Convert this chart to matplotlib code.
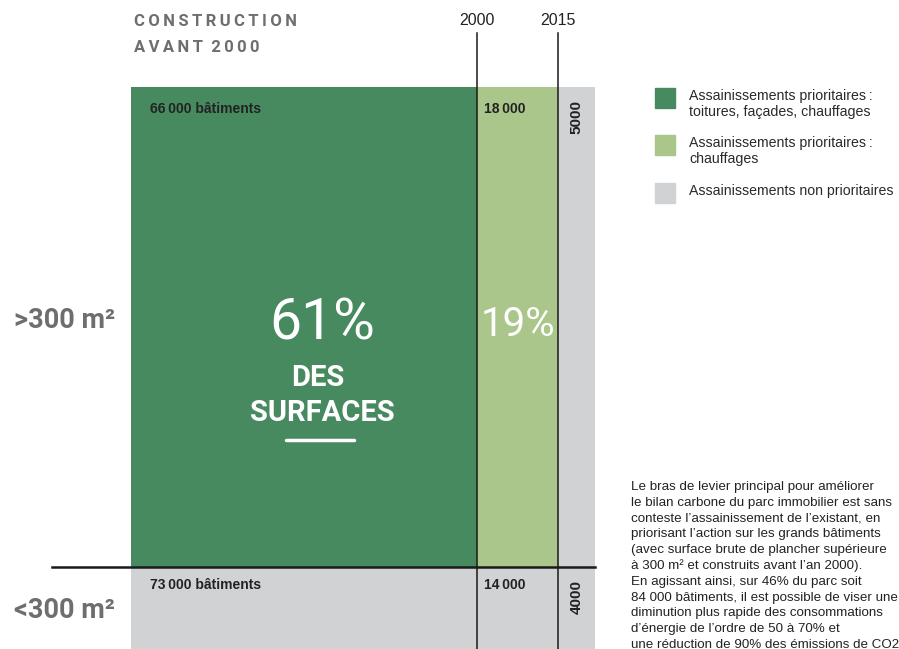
import numpy as np
import matplotlib.pyplot as plt

W, H = 899, 649

# --- données ---
bornes = ['2000', '2015']
part_colonnes = [74.6, 17.5, 7.9]          # avant 2000 / 2000-2015 / après 2015
lignes = ['>300 m²', '<300 m²']
part_lignes = [80, 20]
batiments = [[66000, 18000, 5000], [73000, 14000, 4000]]
part_surfaces = [[61, 19, None], [None, None, None]]
vert_fonce, vert_clair, gris = '#488a60', '#abc68a', '#d1d2d4'
couleurs = [[vert_fonce, vert_clair, gris], [gris, gris, gris]]
legende_couleurs = [vert_fonce, vert_clair, gris]
legende_textes = ['Assainissements prioritaires\u2009:\ntoitures, façades, chauffages',
                  'Assainissements prioritaires\u2009:\nchauffages',
                  'Assainissements non prioritaires']
paragraphe = [
    "Le bras de levier principal pour améliorer",
    "le bilan carbone du parc immobilier est sans",
    "conteste l’assainissement de l’existant, en",
    "priorisant l’action sur les grands bâtiments",
    "(avec surface brute de plancher supérieure",
    "à 300 m² et construits avant l’an 2000).",
    "En agissant ainsi, sur 46% du parc soit",
    "84 000 bâtiments, il est possible de viser une",
    "diminution plus rapide des consommations",
    "d’énergie de l’ordre de 50 à 70% et",
    "une réduction de 90% des émissions de CO2.",
]

MAIN = ['Roboto', 'DejaVu Sans']      # remplace la police manuscrite
TEXTE = ['Liberation Sans', 'DejaVu Sans']


def fx(x):
    return x / W


def fy(y):
    return 1 - y / H


def fmt(n):
    # espace fine seulement à partir de 10 000
    return f"{n:,}".replace(',', '\u2009') if n >= 10000 else str(n)


fig = plt.figure(figsize=(W / 100, H / 100), dpi=100)
ax = fig.add_axes([fx(131), (H - 687) / H, 464 / W, 600 / H])
ax.set_xlim(0, 100)
ax.set_ylim(0, 100)
ax.axis('off')

x_gauche = np.concatenate([[0], np.cumsum(part_colonnes)[:-1]])
y_haut = 100 - np.concatenate([[0], np.cumsum(part_lignes)[:-1]])

for r in range(len(part_lignes)):
    for c in range(len(part_colonnes)):
        ax.bar(x_gauche[c], part_lignes[r], width=part_colonnes[c],
               bottom=y_haut[r] - part_lignes[r], align='edge',
               color=couleurs[r][c], linewidth=0)
        n = batiments[r][c]
        dy = -16 if r == 0 else -13
        if c == 0:
            ax.annotate(fmt(n) + ' bâtiments', xy=(x_gauche[c], y_haut[r]),
                        xytext=(14, dy), textcoords='offset points',
                        ha='left', va='center', fontsize=10, fontweight='bold',
                        family=TEXTE, color='#222222')
        elif c == 1:
            ax.annotate(fmt(n), xy=(x_gauche[c], y_haut[r]),
                        xytext=(5, dy), textcoords='offset points',
                        ha='left', va='center', fontsize=10, fontweight='bold',
                        family=TEXTE, color='#222222')
        else:
            ax.annotate(fmt(n), xy=(x_gauche[c] + part_colonnes[c] / 2, y_haut[r]),
                        xytext=(0, -9), textcoords='offset points',
                        ha='center', va='top', rotation=90, fontsize=11,
                        fontweight='bold', family=TEXTE, color='#222222')

# pourcentages des surfaces
for c, p in enumerate(part_surfaces[0]):
    if p is None:
        continue
    cx = x_gauche[c] + part_colonnes[c] / 2
    cy = y_haut[0] - part_lignes[0] / 2
    dx = 13 if c == 0 else 0
    ax.annotate(f"{p}%", xy=(cx, cy), xytext=(dx, 2), textcoords='offset points',
                ha='center', va='center', fontsize=41 if c == 0 else 29,
                family=MAIN, color='white')
    if c == 0:
        ax.annotate("DES", xy=(cx, cy), xytext=(dx - 3, -37), textcoords='offset points',
                    ha='center', va='center', fontsize=21, fontweight='bold',
                    family=MAIN, color='white')
        ax.annotate("SURFACES", xy=(cx, cy), xytext=(dx, -62), textcoords='offset points',
                    ha='center', va='center', fontsize=21, fontweight='bold',
                    family=MAIN, color='white')

fig.add_artist(plt.Line2D([fx(286), fx(354)], [fy(440), fy(440)], color='white',
                          lw=2.5, solid_capstyle='round'))

# traits de séparation
for xb, b in zip(np.cumsum(part_colonnes)[:-1], bornes):
    ax.plot([xb, xb], [0, 109], color='#1a1a1a', lw=1.1, clip_on=False)
    ax.annotate(b, xy=(xb, 100), xytext=(0, 48), textcoords='offset points',
                ha='center', va='center', fontsize=11.5, family=TEXTE, color='#222222')
ax.plot([-17, 100], [y_haut[1], y_haut[1]], color='#1a1a1a', lw=1.8, clip_on=False)

# titres manuscrits
fig.text(fx(134), fy(22), '\u2009'.join('CONSTRUCTION'), fontsize=12, fontweight='bold',
         family=MAIN, color='#6e6e6e', va='center', ha='left')
fig.text(fx(134), fy(47), '\u2009'.join('AVANT') + '  ' + '\u2009'.join('2000'),
         fontsize=12, fontweight='bold', family=MAIN, color='#6e6e6e', va='center', ha='left')
for lab, yy in zip(lignes, [320, 610]):
    fig.text(fx(14), fy(yy), lab, fontsize=19.5, fontweight='bold', family=MAIN,
             color='#6e6e6e', va='center', ha='left')

# légende
for i, (col, txt) in enumerate(zip(legende_couleurs, legende_textes)):
    top = [88, 135, 183][i]
    fig.add_artist(plt.Rectangle((fx(655), fy(top + 20)), 20 / W, 20 / H,
                                 color=col, transform=fig.transFigure))
    fig.text(fx(689), fy(top + 1), txt, fontsize=10.2, family=TEXTE, color='#2a2a2a',
             va='top', ha='left', linespacing=1.15)

# paragraphe
for i, ligne in enumerate(paragraphe):
    fig.text(fx(631), fy(487 + i * 15.8), ligne, fontsize=9.6, family=TEXTE,
             color='#222222', va='center', ha='left')

fig.savefig('out.png', dpi=100)
